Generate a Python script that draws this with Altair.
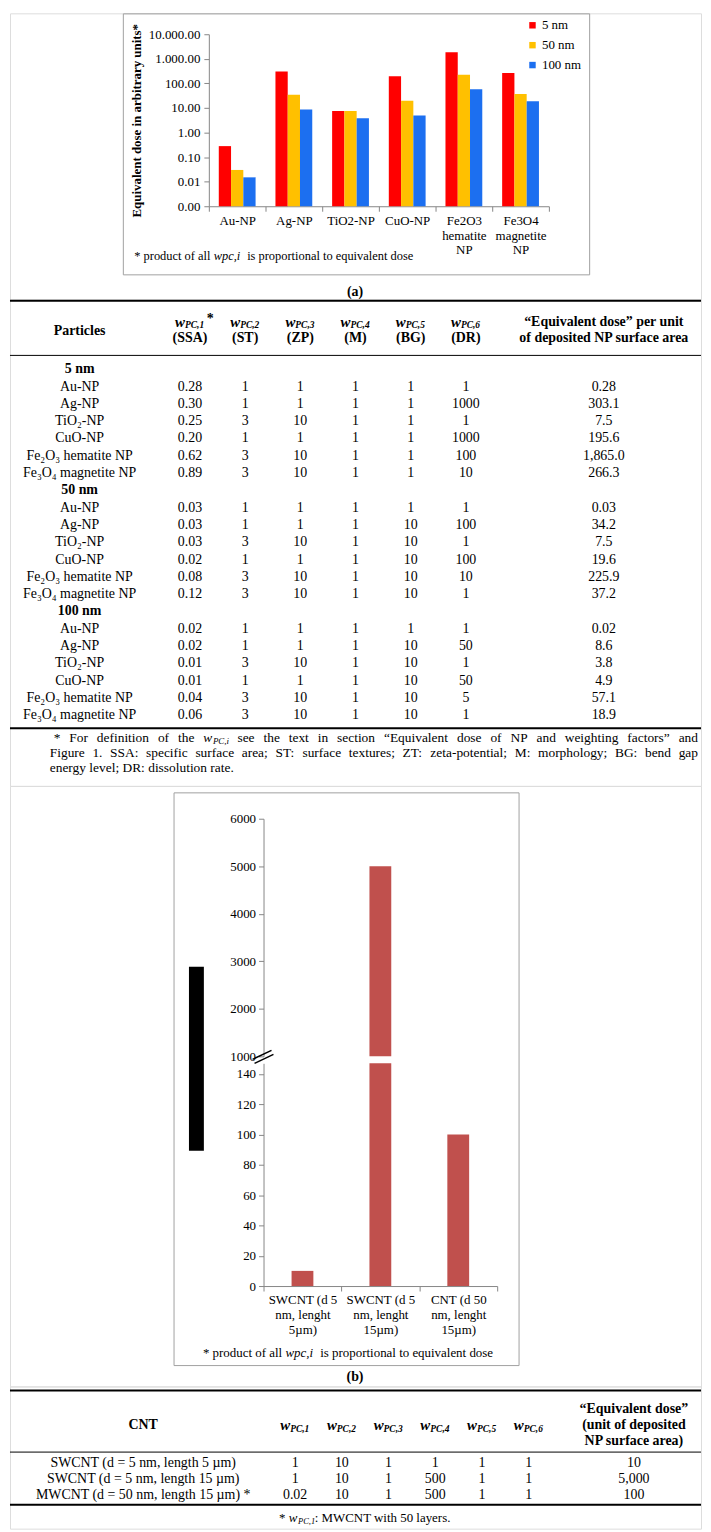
import altair as alt
import pandas as pd

FONT = "Liberation Serif"
AXIS_GRAY = "#868686"
FRAME_GRAY = "#A0A0A0"

# ===================== data: panel (a) bar chart =====================
particles_a = ["Au-NP", "Ag-NP", "TiO2-NP", "CuO-NP", "Fe2O3|hematite|NP", "Fe3O4|magnetite|NP"]
sizes = ["5 nm", "50 nm", "100 nm"]
dose_5nm = [0.28, 303.1, 7.5, 195.6, 1865.0, 266.3]
dose_50nm = [0.03, 34.2, 7.5, 19.6, 225.9, 37.2]
dose_100nm = [0.015, 8.6, 3.8, 4.9, 57.1, 18.9]
size_colors = ["#FF0000", "#FFC000", "#1C6FF0"]
log_ticks = [0.001, 0.01, 0.1, 1, 10, 100, 1000, 10000]
log_tick_labels = ["0.00", "0.01", "0.10", "1.00", "10.00", "100.00", "1.000.00", "10.000.00"]

# ===================== data: table under panel (a) =====================
np_names = ["Au-NP", "Ag-NP", "TiO₂-NP", "CuO-NP", "Fe₂O₃ hematite NP", "Fe₃O₄ magnetite NP"]
size_groups = ["5 nm", "50 nm", "100 nm"]
w_ssa_5 = ["0.28", "0.30", "0.25", "0.20", "0.62", "0.89"]
w_ssa_50 = ["0.03", "0.03", "0.03", "0.02", "0.08", "0.12"]
w_ssa_100 = ["0.02", "0.02", "0.01", "0.01", "0.04", "0.06"]
w_st = ["1", "1", "3", "1", "3", "3"]
w_zp = ["1", "1", "10", "1", "10", "10"]
w_m = ["1", "1", "1", "1", "1", "1"]
w_bg_5 = ["1", "1", "1", "1", "1", "1"]
w_bg_50 = ["1", "10", "10", "10", "10", "10"]
w_bg_100 = ["1", "10", "10", "10", "10", "10"]
w_dr_5 = ["1", "1000", "1", "1000", "100", "10"]
w_dr_50 = ["1", "100", "1", "100", "10", "1"]
w_dr_100 = ["1", "50", "1", "50", "5", "1"]
eq_dose_5 = ["0.28", "303.1", "7.5", "195.6", "1,865.0", "266.3"]
eq_dose_50 = ["0.03", "34.2", "7.5", "19.6", "225.9", "37.2"]
eq_dose_100 = ["0.02", "8.6", "3.8", "4.9", "57.1", "18.9"]
w_subs = ["PC,1", "PC,2", "PC,3", "PC,4", "PC,5", "PC,6"]
header_abbrev = ["(SSA)", "(ST)", "(ZP)", "(M)", "(BG)", "(DR)"]

# ===================== data: panel (b) bar chart =====================
cnt_types = ["SWCNT (d 5|nm, lenght|5µm)", "SWCNT (d 5|nm, lenght|15µm)", "CNT (d 50|nm, lenght|15µm)"]
cnt_dose = [10, 5000, 100]
lower_ticks = [0, 20, 40, 60, 80, 100, 120, 140]
upper_ticks = [1000, 2000, 3000, 4000, 5000, 6000]
cnt_color = "#C0504D"

# ===================== data: table under panel (b) =====================
cnt_names = ["SWCNT (d = 5 nm, length 5 µm)", "SWCNT (d = 5 nm, length 15 µm)",
             "MWCNT (d = 50 nm, length 15 µm) *"]
cnt_w1 = ["1", "1", "0.02"]
cnt_w2 = ["10", "10", "10"]
cnt_w3 = ["1", "1", "1"]
cnt_w4 = ["1", "500", "500"]
cnt_w5 = ["1", "1", "1"]
cnt_w6 = ["1", "1", "1"]
cnt_eq = ["10", "5,000", "100"]

# ===================== layout helpers =====================
W = 695
H1, H2, H3, H4 = 288, 489, 604, 143
ONE = pd.DataFrame({"k": [0]})

TW = {' ': 250, '*': 500, '(': 333, ')': 333, ',': 250, '-': 333, '.': 250, ':': 278, ';': 278,
      '“': 444, '”': 444, 'µ': 500,
      'A': 722, 'B': 667, 'C': 667, 'D': 722, 'E': 611, 'F': 556, 'G': 722, 'H': 722, 'I': 333,
      'J': 389, 'K': 722, 'L': 611, 'M': 889, 'N': 722, 'O': 722, 'P': 556, 'Q': 722, 'R': 667,
      'S': 556, 'T': 611, 'U': 722, 'V': 722, 'W': 944, 'X': 722, 'Y': 722, 'Z': 611,
      'a': 444, 'b': 500, 'c': 444, 'd': 500, 'e': 444, 'f': 333, 'g': 500, 'h': 500, 'i': 278,
      'j': 278, 'k': 500, 'l': 278, 'm': 778, 'n': 500, 'o': 500, 'p': 500, 'q': 500, 'r': 333,
      's': 389, 't': 278, 'u': 500, 'v': 500, 'w': 722, 'x': 500, 'y': 500, 'z': 444}


def text_w(s, size):
    return sum(TW.get(ch, 500) for ch in s) * size / 1000.0


def label(text, x, y, size=13, weight="normal", style="normal", align="center", color="black"):
    return alt.Chart(ONE).mark_text(
        text=text, font=FONT, fontSize=size, fontWeight=weight, fontStyle=style,
        align=align, baseline="middle", color=color
    ).encode(x=alt.value(x), y=alt.value(y))


def rich(parts, x, y, center=False):
    total = sum(text_w(t, s) for t, s, _, _ in parts)
    cx = x - total / 2 if center else x
    out = []
    for t, s, st, dy in parts:
        if t.strip():
            out.append(label(t, cx, y + dy, size=s, style=st, align="left"))
        cx += text_w(t, s)
    return out


def justified(words, x0, x1, y, size):
    """words: list of words; each word is a list of (text, size, style, dy) parts."""
    widths = [sum(text_w(t, s) for t, s, _, _ in wd) for wd in words]
    gap = (x1 - x0 - sum(widths)) / (len(words) - 1)
    out = []
    cx = x0
    for wd, wdt in zip(words, widths):
        px = cx
        for t, s, st, dy in wd:
            out.append(label(t, px, y + dy, size=s, style=st, align="left"))
            px += text_w(t, s)
        cx += wdt + gap
    return out


def plain_words(line, size):
    return [[(wd, size, "normal", 0)] for wd in line.split(" ")]


def hline(y, width=1):
    return alt.Chart(ONE).mark_rule(color="black", strokeWidth=width).encode(
        x=alt.value(0), x2=alt.value(W), y=alt.value(y))


def seg(x1, y1, x2, y2, width=1.5, color="black"):
    return alt.Chart(ONE).mark_rule(color=color, strokeWidth=width).encode(
        x=alt.value(x1), y=alt.value(y1), x2=alt.value(x2), y2=alt.value(y2))


def frame(x1, y1, x2, y2, color=FRAME_GRAY):
    return alt.Chart(ONE).mark_rect(fill="white", fillOpacity=0, stroke=color, strokeWidth=1).encode(
        x=alt.value(x1), x2=alt.value(x2), y=alt.value(y1), y2=alt.value(y2))


def slot_scale(slots, x_first, step):
    n = max(slots.values()) + 1
    inv = {v: k for k, v in slots.items()}
    domain = [inv.get(i, f"_{i}") for i in range(n)]
    return alt.Scale(type="point", domain=domain, range=[x_first, x_first + step * (n - 1)], padding=0)


# ===================== piece 1: panel (a) =====================
dfa = pd.DataFrame([
    {"particle": p, "size": s, "dose": v}
    for s, vals in zip(sizes, [dose_5nm, dose_50nm, dose_100nm])
    for p, v in zip(particles_a, vals)
])

label_lookup = "[" + ",".join(f"'{s}'" for s in log_tick_labels) + "][round(log(datum.value)/LN10)+3]"

x_a = alt.X(
    "particle:N", sort=particles_a, title=None,
    scale=alt.Scale(domain=particles_a, range=[200, 542], paddingInner=0, paddingOuter=0),
    axis=alt.Axis(orient="bottom", offset=194 - H1, labelExpr="split(datum.label, '|')", labelAngle=0,
                  tickBand="extent", tickSize=5, domainColor=AXIS_GRAY, tickColor=AXIS_GRAY,
                  labelFont=FONT, labelFontSize=13, labelColor="black", labelPadding=3,
                  labelLineHeight=15, labelOverlap=False),
)
y_a = alt.Y(
    "dose:Q",
    scale=alt.Scale(type="log", domain=[0.001, 10000], range=[194, 21], nice=False),
    axis=alt.Axis(orient="left", offset=-200, values=log_ticks, labelExpr=label_lookup,
                  title="Equivalent dose in arbitrary units*", titleFont=FONT, titleFontSize=13,
                  titleFontWeight="bold", titleColor="black", titlePadding=5,
                  grid=False, tickSize=5, domainColor=AXIS_GRAY, tickColor=AXIS_GRAY,
                  labelFont=FONT, labelFontSize=13, labelColor="black", labelPadding=4),
)
bars_a = alt.Chart(dfa).mark_bar().encode(
    x=x_a,
    xOffset=alt.XOffset("size:N", sort=sizes,
                        scale=alt.Scale(domain=sizes, paddingInner=0, paddingOuter=0.81)),
    y=y_a,
    y2=alt.datum(0.001),
    color=alt.Color("size:N", sort=sizes, scale=alt.Scale(domain=sizes, range=size_colors),
                    legend=alt.Legend(title=None, orient="none", legendX=519, legendY=5.5,
                                      symbolType="square", symbolSize=42, symbolStrokeWidth=0,
                                      labelFont=FONT, labelFontSize=13, labelColor="black",
                                      rowPadding=6, padding=0, labelOffset=3)),
)
caption_a = [("* product of all ", 12.5, "normal", 0), ("wpc,i", 12.5, "italic", 0),
             ("  ", 12.5, "normal", 0), ("is proportional to equivalent dose", 12.5, "normal", 0)]
p1 = alt.layer(
    frame(114, 0.5, 583, 263),
    bars_a,
    *rich(caption_a, 125, 244),
    label("(a)", 347, 280, size=14, weight="bold"),
).properties(width=W, height=H1)

# ===================== piece 2: table (a) =====================
slots_a = {"name": 0, "w1": 8, "w2": 12, "w3": 16, "w4": 20, "w5": 24, "w6": 28, "eq": 38}
cols = ["name", "w1", "w2", "w3", "w4", "w5", "w6", "eq"]
recs = []
r = 0
for g, ssa, bg, dr, eq in zip(size_groups, [w_ssa_5, w_ssa_50, w_ssa_100], [w_bg_5, w_bg_50, w_bg_100],
                              [w_dr_5, w_dr_50, w_dr_100], [eq_dose_5, eq_dose_50, eq_dose_100]):
    recs.append({"row": r, "col": "name", "text": g, "kind": "group"})
    r += 1
    for i, nm in enumerate(np_names):
        for c, v in zip(cols, [nm, ssa[i], w_st[i], w_zp[i], w_m[i], bg[i], dr[i], eq[i]]):
            recs.append({"row": r, "col": c, "text": v, "kind": "cell"})
        r += 1
tab_a = pd.DataFrame(recs)

xA = alt.X("col:N", scale=slot_scale(slots_a, 70, 13.875), axis=None)
yA = alt.Y("row:Q", scale=alt.Scale(domain=[0, r - 1], range=[70, 418]), axis=None)

body_a = alt.Chart(tab_a).transform_filter("datum.kind == 'cell'").mark_text(
    font=FONT, fontSize=14, color="black").encode(x=xA, y=yA, text="text:N")
group_a = alt.Chart(tab_a).transform_filter("datum.kind == 'group'").mark_text(
    font=FONT, fontSize=14, fontWeight="bold", color="black").encode(x=xA, y=yA, text="text:N")

hdr_a = pd.DataFrame({"col": cols[1:7], "sub": w_subs, "abbr": header_abbrev})
hdr_w_a = alt.Chart(hdr_a).mark_text(text="w", font=FONT, fontSize=15, fontWeight="bold", fontStyle="italic",
                                     align="right", dx=-5, color="black").encode(x=xA, y=alt.value(22))
hdr_sub_a = alt.Chart(hdr_a).mark_text(font=FONT, fontSize=9.5, fontWeight="bold", fontStyle="italic",
                                       align="left", dx=-5, dy=3.5, color="black").encode(
    x=xA, y=alt.value(22), text="sub:N")
hdr_star_a = alt.Chart(pd.DataFrame({"col": ["w1"]})).mark_text(
    text="*", font=FONT, fontSize=14, fontWeight="bold", align="left", dx=17, dy=-3, color="black").encode(
    x=xA, y=alt.value(22))
hdr_abbr_a = alt.Chart(hdr_a).mark_text(font=FONT, fontSize=14, fontWeight="bold", color="black").encode(
    x=xA, y=alt.value(39), text="abbr:N")
hdr_l1_a = alt.Chart(pd.DataFrame({"col": ["eq"], "t": ["“Equivalent dose” per unit"]})).mark_text(
    font=FONT, fontSize=14, fontWeight="bold", color="black").encode(x=xA, y=alt.value(22), text="t:N")
hdr_l2_a = alt.Chart(pd.DataFrame({"col": ["eq"], "t": ["of deposited NP surface area"]})).mark_text(
    font=FONT, fontSize=14, fontWeight="bold", color="black").encode(x=xA, y=alt.value(39), text="t:N")
hdr_part_a = alt.Chart(pd.DataFrame({"col": ["name"], "t": ["Particles"]})).mark_text(
    font=FONT, fontSize=14, fontWeight="bold", color="black").encode(x=xA, y=alt.value(31), text="t:N")

FN = 13.5
foot1_words = (plain_words("* For definition of the", FN)
               + [[("w", FN, "italic", 0), ("PC,i", 9, "italic", 3)]]
               + plain_words("see the text in section “Equivalent dose of NP and weighting factors” and", FN))
foot2_words = plain_words(
    "Figure 1. SSA: specific surface area; ST: surface textures; ZT: zeta-potential; M: morphology; BG: bend gap", FN)
foot3 = [("energy level; DR: dissolution rate.", FN, "normal", 0)]

p2 = alt.layer(
    hline(1, 2),
    hdr_part_a, hdr_w_a, hdr_sub_a, hdr_star_a, hdr_abbr_a, hdr_l1_a, hdr_l2_a,
    hline(56, 1),
    body_a, group_a,
    hline(431, 2),
    *justified(foot1_words, 44, 692, 441, FN),
    *justified(foot2_words, 40, 692, 456, FN),
    *rich(foot3, 40, 471),
).properties(width=W, height=H2)

# ===================== piece 3: panel (b) =====================
dfb = pd.DataFrame({"cnt": cnt_types, "dose": cnt_dose})
x_b = alt.X(
    "cnt:N", sort=cnt_types, title=None,
    scale=alt.Scale(domain=cnt_types, range=[255, 490], paddingInner=0, paddingOuter=0),
    axis=alt.Axis(orient="bottom", offset=503 - H3, labelExpr="split(datum.label, '|')", labelAngle=0,
                  tickBand="extent", tickSize=5, domainColor=AXIS_GRAY, tickColor=AXIS_GRAY,
                  labelFont=FONT, labelFontSize=13, labelColor="black", labelPadding=3,
                  labelLineHeight=15, labelOverlap=False),
)
lower_b = alt.Chart(dfb).mark_bar(color=cnt_color, width=alt.RelativeBandSize(0.28)).encode(
    x=x_b,
    y=alt.Y("dose:Q", title=None,
            scale=alt.Scale(domain=[0, 147], range=[503, 279], clamp=True, nice=False, zero=True),
            axis=alt.Axis(orient="left", offset=-255, values=lower_ticks, format="d", grid=False, tickSize=5,
                          domainColor=AXIS_GRAY, tickColor=AXIS_GRAY, labelFont=FONT, labelFontSize=13,
                          labelColor="black", labelPadding=3)),
)
upper_b = alt.Chart(dfb).transform_filter("datum.dose > 1000").mark_bar(
    color=cnt_color, width=alt.RelativeBandSize(0.28)).encode(
    x=x_b,
    y=alt.Y("dose:Q", title=None,
            scale=alt.Scale(domain=[1000, 6000], range=[272, 33], nice=False, zero=False),
            axis=alt.Axis(orient="left", offset=-255, values=upper_ticks, format="d", grid=False, tickSize=5,
                          domainColor=AXIS_GRAY, tickColor=AXIS_GRAY, labelFont=FONT, labelFontSize=13,
                          labelColor="black", labelPadding=3)),
    y2=alt.datum(1000),
)
black_bar = alt.Chart(ONE).mark_rect(color="black").encode(
    x=alt.value(180), x2=alt.value(195), y=alt.value(182), y2=alt.value(367))
caption_b = [("* product of all ", 13, "normal", 0), ("wpc,i", 13, "italic", 0),
             ("  ", 13, "normal", 0), ("is proportional to equivalent dose", 13, "normal", 0)]
p3 = alt.layer(
    frame(165, 7, 512, 583),
    black_bar,
    lower_b,
    upper_b,
    seg(244, 275, 263, 266),
    seg(246, 279, 265, 270),
    *rich(caption_b, 194, 570),
    label("(b)", 347, 595, size=14, weight="bold"),
).resolve_scale(y="independent").resolve_axis(y="independent").properties(width=W, height=H3)

# ===================== piece 4: table (b) =====================
slots_b = {"name": 0, "w1": 13, "w2": 17, "w3": 21, "w4": 25, "w5": 29, "w6": 33, "eq": 42}
recs_b = []
for i, nm in enumerate(cnt_names):
    for c, v in zip(cols, [nm, cnt_w1[i], cnt_w2[i], cnt_w3[i], cnt_w4[i], cnt_w5[i], cnt_w6[i], cnt_eq[i]]):
        recs_b.append({"row": i, "col": c, "text": v})
tab_b = pd.DataFrame(recs_b)
xB = alt.X("col:N", scale=slot_scale(slots_b, 134, 11.75), axis=None)
yB = alt.Y("row:Q", scale=alt.Scale(domain=[0, 2], range=[77, 109]), axis=None)
body_b = alt.Chart(tab_b).mark_text(font=FONT, fontSize=14, color="black").encode(x=xB, y=yB, text="text:N")
hdr_b = pd.DataFrame({"col": cols[1:7], "sub": w_subs})
hdr_w_b = alt.Chart(hdr_b).mark_text(text="w", font=FONT, fontSize=15, fontWeight="bold", fontStyle="italic",
                                     align="right", dx=-5, color="black").encode(x=xB, y=alt.value(39))
hdr_sub_b = alt.Chart(hdr_b).mark_text(font=FONT, fontSize=9.5, fontWeight="bold", fontStyle="italic",
                                       align="left", dx=-5, dy=3.5, color="black").encode(
    x=xB, y=alt.value(39), text="sub:N")
hdr_txt_b = alt.Chart(pd.DataFrame({
    "col": ["name", "eq", "eq", "eq"],
    "t": ["CNT", "“Equivalent dose”", "(unit of deposited", "NP surface area)"],
    "line": [1, 0, 1, 2],
})).mark_text(font=FONT, fontSize=14, fontWeight="bold", color="black").encode(
    x=xB, y=alt.Y("line:Q", scale=alt.Scale(domain=[0, 2], range=[23, 55]), axis=None), text="t:N")
foot_b = [("* ", 13, "normal", 0), ("w", 13, "italic", 0), ("PC,1", 8.5, "italic", 3),
          (": MWCNT with 50 layers.", 13, "normal", 0)]
p4 = alt.layer(
    hline(4, 2),
    hdr_txt_b, hdr_w_b, hdr_sub_b,
    hline(66, 1),
    body_b,
    hline(119, 2),
    *rich(foot_b, 357, 132, center=True),
).resolve_scale(y="independent").properties(width=W, height=H4)

chart = alt.vconcat(p1, p2, p3, p4, spacing=0, bounds="flush", padding=0).configure_view(
    stroke=None).configure(font=FONT)

chart.save("out.html", embed_options={"renderer": "svg", "actions": False})
